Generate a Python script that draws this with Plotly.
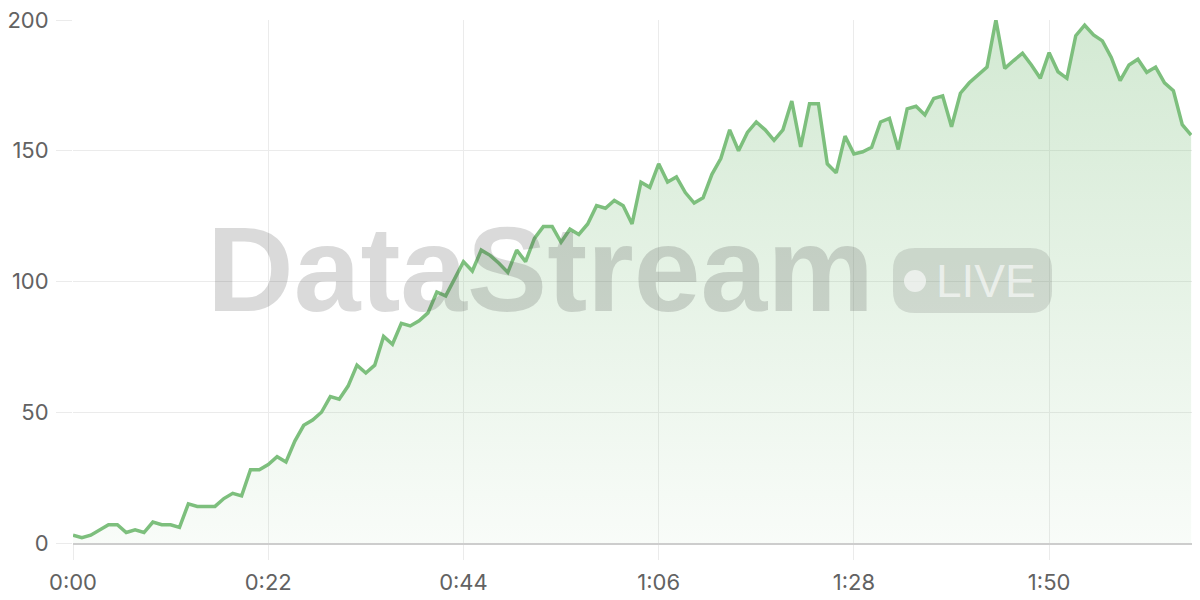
import plotly.graph_objects as go

# viewers over time (one sample per second, starting at 0:00)
values = [
    3, 2, 3, 5, 7, 7, 4, 5, 4, 8, 7, 7, 6, 15, 14, 14, 14, 17, 19, 18, 28,
    28, 30, 33, 31, 39, 45, 47, 50, 56, 55, 60, 68, 65, 68, 79, 76, 84, 83, 85, 88, 96, 94.5,
    101, 107.6, 104, 112, 110, 107, 103.5, 112, 107.6, 116.5, 121, 121, 115, 120, 118, 122, 129, 128, 131, 129,
    122, 138, 136, 145, 138, 140, 134, 130, 132, 141, 147, 158, 150, 157, 161, 158, 154, 158, 169, 151.5, 168, 168, 145,
    141.6, 155.6, 148.8, 149.6, 151.3, 161, 162.4, 150.5, 166, 167, 163.7, 170, 171, 159.2, 172, 176, 179, 182, 200, 181.5, 184.5,
    187.3, 182.8, 177.7, 187.5, 180.2, 177.7, 194, 198, 194.3, 192, 185.7, 176.8, 182.8, 185, 180, 182, 176, 173, 160, 156,
]
x_tick_seconds = [0, 22, 44, 66, 88, 110]
x_tick_labels = ["0:00", "0:22", "0:44", "1:06", "1:28", "1:50"]
y_ticks = [0, 50, 100, 150, 200]
watermark = "DataStream"
badge = "LIVE"

LINE = "#7dbf7d"
GRID = "#ebebeb"
TICKFONT = dict(family="Inter, Roboto, sans-serif", size=22, color="#626262")

# page body adds an 8px offset; figure is sized so the plot lands where the reference has it
OFF = 8
W, H = 1192, 592
L, T, R, B = 73 - OFF, 20 - OFF, 0, H - (543 - OFF)
PW, PH = W - L - R, H - T - B


def px_to_paper(sx, sy):
    return (sx - OFF - L) / PW, ((543 - OFF) - (sy - OFF)) / PH


fig = go.Figure()
fig.add_trace(go.Scatter(
    x0=0, dx=1, y=values,
    mode="lines",
    line=dict(color=LINE, width=3.5),
    fill="tozeroy",
    fillgradient=dict(
        type="vertical",
        start=0, stop=200,
        colorscale=[[0, "rgba(125,191,125,0.05)"], [1, "rgba(125,191,125,0.34)"]],
    ),
    hoverinfo="skip",
))

fig.update_layout(
    width=W, height=H,
    margin=dict(l=L, r=R, t=T, b=B),
    paper_bgcolor="white",
    plot_bgcolor="white",
    showlegend=False,
    xaxis=dict(
        range=[0, 127],
        tickmode="array", tickvals=x_tick_seconds, ticktext=x_tick_labels,
        showgrid=True, gridcolor=GRID, gridwidth=1,
        ticks="outside", ticklen=15, tickcolor=GRID, tickwidth=1,
        ticklabelstandoff=4,
        ticklabeloverflow="allow",
        showline=True, linecolor="#cdcdcd", linewidth=1.5,
        zeroline=False,
        tickfont=TICKFONT,
        fixedrange=True,
    ),
    yaxis=dict(
        range=[0, 200],
        tickmode="array", tickvals=y_ticks,
        showgrid=True, gridcolor=GRID, gridwidth=1,
        ticks="outside", ticklen=16, tickcolor=GRID, tickwidth=1,
        ticklabelstandoff=3,
        ticklabeloverflow="allow",
        showline=False, zeroline=False,
        tickfont=TICKFONT,
        fixedrange=True,
    ),
)

# watermark text
wx, wy = px_to_paper(540, 269)
fig.add_annotation(
    xref="paper", yref="paper", x=wx, y=wy,
    xanchor="center", yanchor="middle",
    text="<b>" + watermark + "</b>", showarrow=False,
    font=dict(family="Liberation Sans, Arial, sans-serif", size=120, color="rgba(60,60,60,0.19)"),
)

# LIVE badge (rounded pill)
w, h, r = 159, 65, 22
hw, hh = w / 2, h / 2
pill = (
    f"M {-hw + r},{-hh} L {hw - r},{-hh} Q {hw},{-hh} {hw},{-hh + r} "
    f"L {hw},{hh - r} Q {hw},{hh} {hw - r},{hh} L {-hw + r},{hh} "
    f"Q {-hw},{hh} {-hw},{hh - r} L {-hw},{-hh + r} Q {-hw},{-hh} {-hw + r},{-hh} Z"
)
px, py = px_to_paper(972.5, 280.5)
fig.add_shape(
    type="path", xref="paper", yref="paper",
    xsizemode="pixel", ysizemode="pixel",
    xanchor=px, yanchor=py,
    path=pill, fillcolor="rgba(60,60,60,0.14)", line=dict(width=0),
)
dx_, dy_ = px_to_paper(915, 281)
fig.add_shape(
    type="circle", xref="paper", yref="paper",
    xsizemode="pixel", ysizemode="pixel",
    xanchor=dx_, yanchor=dy_,
    x0=-11, x1=11, y0=-11, y1=11,
    fillcolor="rgba(255,255,255,0.6)", line=dict(width=0),
)
lx, ly = px_to_paper(986, 281)
fig.add_annotation(
    xref="paper", yref="paper", x=lx, y=ly,
    xanchor="center", yanchor="middle",
    text=badge, showarrow=False,
    font=dict(family="Liberation Sans, Arial, sans-serif", size=46, color="rgba(255,255,255,0.6)"),
)

fig.write_html("out.html")
